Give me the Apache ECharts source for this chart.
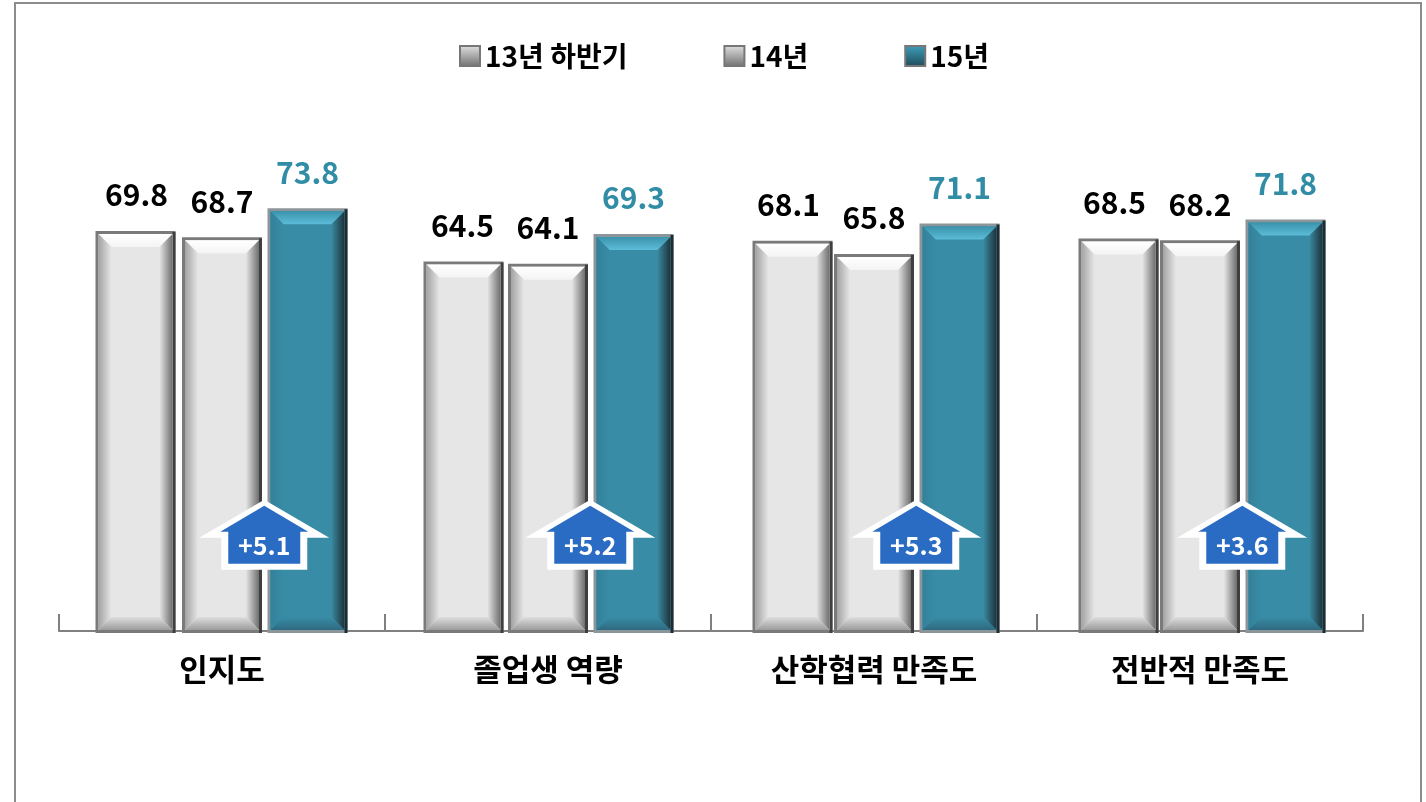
<!DOCTYPE html>
<html>
<head>
<meta charset="utf-8">
<style>
  html, body { margin: 0; padding: 0; background: #fff; }
  #chart { width: 1426px; height: 802px; }
</style>
<script src="https://cdn.jsdelivr.net/npm/echarts@6/dist/echarts.min.js"></script>
</head>
<body>
<div id="chart"></div>
<script>
var categories = ['인지도', '졸업생 역량', '산학협력 만족도', '전반적 만족도'];
var seriesNames = ['13년 하반기', '14년', '15년'];
var values13 = [69.8, 64.5, 68.1, 68.5];
var values14 = [68.7, 64.1, 65.8, 68.2];
var values15 = [73.8, 69.3, 71.1, 71.8];
var arrowLabels = ['+5.1', '+5.2', '+5.3', '+3.6'];
var arrowLevel = [22.9, 22.9, 22.9, 22.9];

var font = '"Noto Sans CJK KR", sans-serif';
var barWidth = 80;
var barStep = 85.5;
// the first bar of each group sits a little off the regular step in the original
var firstBarNudge = [-1, 1, 4, 4];

var grayStyle = {
  border: '#7a7a7a', borderRight: '#3f3f3f', face: '#e6e6e6', top: ['#ffffff', '#f4f4f4'],
  left: ['#a3a3a3', '#e6e6e6'], right: ['#e4e4e4', '#6e6e6e'], bottom: ['#dedede', '#9c9c9c'],
  label: '#000000'
};
var tealStyle = {
  border: '#8c9599', borderRight: '#1c2c33', face: '#398ca6', top: ['#3b93ac', '#5cbcd8'],
  left: ['#33819a', '#398ca6'], right: ['#39899f', '#1d333d'], bottom: ['#398ca6', '#2d6a80'],
  label: '#318ca5'
};

function grad(x, y, x2, y2, c) {
  return new echarts.graphic.LinearGradient(x, y, x2, y2, [
    { offset: 0, color: c[0] }, { offset: 1, color: c[1] }
  ]);
}

// bevelled bar, drawn from the value through the axes
function barRenderer(index, st) {
  return function (params, api) {
    var base = api.coord([api.value(0), 0]);
    var top = api.coord([api.value(0), api.value(1)]);
    var nudge = index === 0 ? firstBarNudge[params.dataIndex] : 0;
    var labelX = base[0] + (index - 1) * barStep;
    var x0 = labelX - barWidth / 2 + nudge;
    var x1 = x0 + barWidth;
    var y0 = top[1];
    var y1 = base[1] + 2;
    var b = 3, t = 13;
    var ix0 = x0 + b, ix1 = x1 - b, iy0 = y0 + b, iy1 = y1 - b;
    return {
      type: 'group',
      children: [
        { type: 'rect', shape: { x: x0, y: y0, width: barWidth, height: y1 - y0 }, style: { fill: st.border } },
        { type: 'rect', shape: { x: x1 - b, y: y0 + 1, width: b, height: y1 - y0 - 1 }, style: { fill: st.borderRight } },
        { type: 'rect', shape: { x: ix0, y: iy0, width: ix1 - ix0, height: iy1 - iy0 }, style: { fill: st.face } },
        { type: 'polygon', shape: { points: [[ix0, iy0], [ix1, iy0], [ix1 - t, iy0 + t], [ix0 + t, iy0 + t]] }, style: { fill: grad(0, 0, 0, 1, st.top) } },
        { type: 'polygon', shape: { points: [[ix0, iy0], [ix0 + t, iy0 + t], [ix0 + t, iy1 - t], [ix0, iy1]] }, style: { fill: grad(0, 0, 1, 0, st.left) } },
        { type: 'polygon', shape: { points: [[ix1, iy0], [ix1 - t, iy0 + t], [ix1 - t, iy1 - t], [ix1, iy1]] }, style: { fill: grad(0, 0, 1, 0, st.right) } },
        { type: 'polygon', shape: { points: [[ix0, iy1], [ix0 + t, iy1 - t], [ix1 - t, iy1 - t], [ix1, iy1]] }, style: { fill: grad(0, 0, 0, 1, st.bottom) } },
        {
          type: 'text',
          style: {
            x: labelX, y: y0 - 36,
            text: api.value(1).toFixed(1),
            fill: st.label, font: 'bold 30px ' + font,
            textAlign: 'center', textVerticalAlign: 'middle'
          }
        }
      ]
    };
  };
}

function arrowRenderer(params, api) {
  var p = api.coord([api.value(0), api.value(1)]);
  var cx = p[0] + barStep / 2 - 0.5;
  var y = p[1];
  function pts(list) {
    return list.map(function (o) { return [cx + o[0], y + o[1]]; });
  }
  return {
    type: 'group',
    children: [
      { type: 'polygon', shape: { points: pts([[0, 0], [65, 38], [43, 38], [43, 70], [-43, 70], [-43, 38], [-65, 38]]) }, style: { fill: '#ffffff' } },
      { type: 'polygon', shape: { points: pts([[0, 6], [44, 32], [36, 32], [36, 64], [-36, 64], [-36, 32], [-44, 32]]) }, style: { fill: '#2a6cc4' } },
      {
        type: 'text',
        style: {
          x: cx, y: y + 46,
          text: arrowLabels[params.dataIndex],
          fill: '#ffffff', font: 'bold 25px ' + font,
          textAlign: 'center', textVerticalAlign: 'middle'
        }
      }
    ]
  };
}

function makeBar(name, values, index, st) {
  return {
    name: name,
    type: 'custom',
    renderItem: barRenderer(index, st),
    encode: { x: 0, y: 1 },
    data: values.map(function (v, i) { return [i, v]; }),
    z: 2,
    itemStyle: { color: st.face }
  };
}

function legendIcon(colors) {
  return {
    color: new echarts.graphic.LinearGradient(0, 0, 0, 1, [
      { offset: 0, color: colors[0] }, { offset: 1, color: colors[1] }
    ]),
    borderColor: '#777777',
    borderWidth: 2
  };
}

var chart = echarts.init(document.getElementById('chart'));
chart.setOption({
  animation: false,
  backgroundColor: '#ffffff',
  graphic: [{
    type: 'polyline',
    silent: true,
    z: -1,
    shape: { points: [[15, 802], [15, 3], [1421, 3], [1421, 802]] },
    style: { stroke: '#8c8c8c', lineWidth: 2, fill: null }
  }],
  legend: {
    left: 454,
    top: 37,
    itemWidth: 20,
    itemHeight: 20,
    itemGap: 96,
    textStyle: { fontFamily: font, fontWeight: 'bold', fontSize: 28, color: '#000000' },
    data: [
      { name: seriesNames[0], icon: 'rect', itemStyle: legendIcon(['#e2e2e2', '#6f6f6f']) },
      { name: seriesNames[1], icon: 'rect', itemStyle: legendIcon(['#e2e2e2', '#6f6f6f']) },
      { name: seriesNames[2], icon: 'rect', itemStyle: legendIcon(['#3fa0bd', '#1f4a58']) }
    ]
  },
  grid: { left: 59, right: 63, top: 58, height: 573 },
  xAxis: {
    type: 'category',
    data: categories,
    axisLine: { lineStyle: { color: '#808080', width: 2 } },
    axisTick: { show: true, inside: true, length: 17, lineStyle: { color: '#808080', width: 2 } },
    axisLabel: { margin: 23, fontFamily: font, fontWeight: 'bold', fontSize: 31, color: '#000000' }
  },
  yAxis: { type: 'value', min: 0, max: 100, show: false },
  series: [
    makeBar(seriesNames[0], values13, 0, grayStyle),
    makeBar(seriesNames[1], values14, 1, grayStyle),
    makeBar(seriesNames[2], values15, 2, tealStyle),
    {
      name: 'arrow',
      type: 'custom',
      renderItem: arrowRenderer,
      encode: { x: 0, y: 1 },
      data: arrowLevel.map(function (v, i) { return [i, v]; }),
      z: 5
    }
  ]
});
</script>
</body>
</html>
